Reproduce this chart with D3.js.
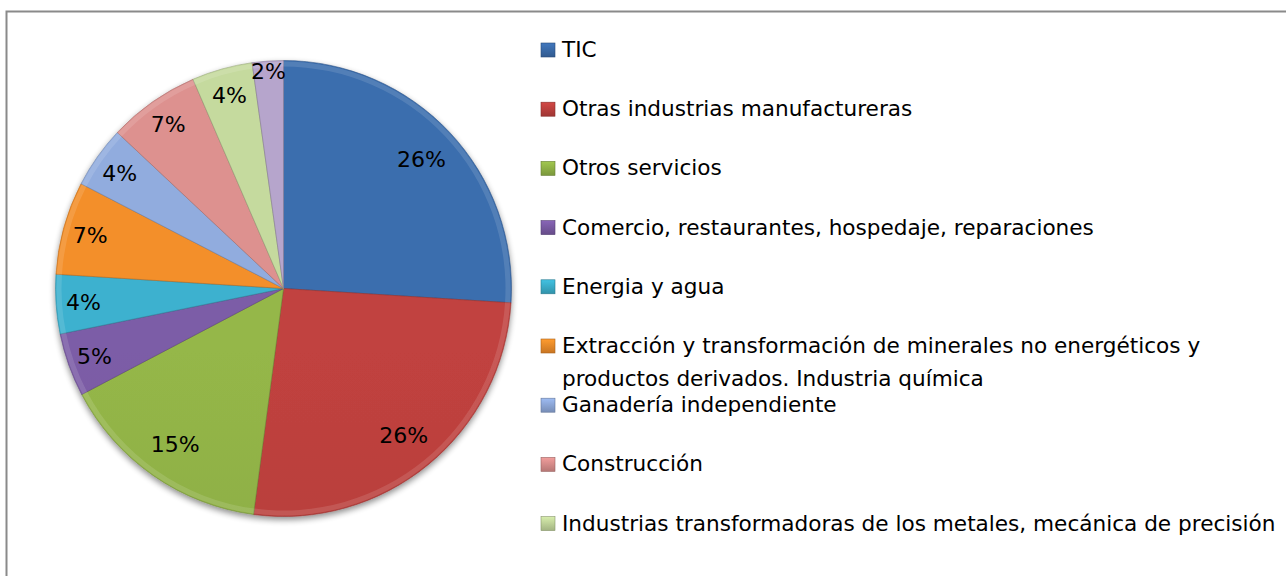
<!DOCTYPE html>
<html>
<head>
<meta charset="utf-8">
<script src="https://cdn.jsdelivr.net/npm/d3@7"></script>
<style>
  html, body { margin: 0; padding: 0; background: #fff; }
  svg { display: block; }
  text { font-family: "DejaVu Sans", sans-serif; }
</style>
</head>
<body>
<svg id="chart" width="1286" height="576"></svg>
<script>
// ---- data ----
const categories = [
  "TIC",
  "Otras industrias manufactureras",
  "Otros servicios",
  "Comercio, restaurantes, hospedaje, reparaciones",
  "Energia y agua",
  "Extracción y transformación de minerales no energéticos y productos derivados. Industria química",
  "Ganadería independiente",
  "Construcción",
  "Industrias transformadoras de los metales, mecánica de precisión",
  "Otras actividades"
];
const values = [26.0, 26.1, 15.2, 4.5, 4.2, 6.6, 4.4, 6.5, 4.3, 2.2];
const colors = ["#3A6CAB", "#BE413E", "#92B447", "#7A5BA4", "#3BAECB",
                "#EF8C2A", "#8EA9DA", "#D98E8C", "#C2D69B", "#B3A2C8"];

// ---- layout ----
const W = 1286, H = 576;
const cx = 283.5, cy = 288.5, R = 228;
const svg = d3.select("#chart");
const defs = svg.append("defs");

// frame (continues past the visible area)
svg.append("rect")
  .attr("x", 6.5).attr("y", 11.5)
  .attr("width", W + 20).attr("height", H + 20)
  .attr("fill", "#fff")
  .attr("stroke", "#8a8a8a").attr("stroke-width", 2);

// shadow filter
const f = defs.append("filter").attr("id", "shadow")
  .attr("x", "-10%").attr("y", "-10%").attr("width", "120%").attr("height", "125%");
f.append("feGaussianBlur").attr("in", "SourceAlpha").attr("stdDeviation", 3).attr("result", "b");
f.append("feOffset").attr("in", "b").attr("dx", 0).attr("dy", 3).attr("result", "o");
f.append("feComponentTransfer").attr("in", "o").attr("result", "o2")
  .append("feFuncA").attr("type", "linear").attr("slope", 0.45);
const fm = f.append("feMerge");
fm.append("feMergeNode").attr("in", "o2");
fm.append("feMergeNode").attr("in", "SourceGraphic");

// gradients per slice (vertical across pie)
colors.forEach((c, i) => {
  const g = defs.append("linearGradient").attr("id", "g" + i)
    .attr("gradientUnits", "userSpaceOnUse")
    .attr("x1", 0).attr("y1", cy - R).attr("x2", 0).attr("y2", cy + R);
  g.append("stop").attr("offset", 0).attr("stop-color", d3.color(c).brighter(0.05));
  g.append("stop").attr("offset", 0.5).attr("stop-color", d3.color(c).darker(0.1));
  g.append("stop").attr("offset", 1).attr("stop-color", d3.color(c).darker(0.55));
  const m = defs.append("linearGradient").attr("id", "m" + i)
    .attr("x1", 0).attr("y1", 0).attr("x2", 0).attr("y2", 1);
  m.append("stop").attr("offset", 0).attr("stop-color", d3.color(c).brighter(0.3));
  m.append("stop").attr("offset", 1).attr("stop-color", d3.color(c).darker(0.5));
});

const data = categories.map((name, i) => ({ name, value: values[i], i }));
const total = d3.sum(values);
const pie = d3.pie().value(d => d.value).sort(null);
const arcs = pie(data);
const arc = d3.arc().innerRadius(0).outerRadius(R);

const g = svg.append("g").attr("transform", `translate(${cx},${cy})`);
const sg = g.append("g").attr("filter", "url(#shadow)");
sg.selectAll("path.slice").data(arcs).enter().append("path")
  .attr("class", "slice")
  .attr("d", arc)
  .attr("fill", d => `url(#g${d.data.i})`)
  .attr("stroke", d => d3.color(colors[d.data.i]).darker(0.8))
  .attr("stroke-opacity", 0.55)
  .attr("stroke-width", 1);

// bevel highlight on the rim
const rimArc = d3.arc().innerRadius(R - 6).outerRadius(R - 1);
g.selectAll("path.rim").data(arcs).enter().append("path")
  .attr("d", rimArc)
  .attr("fill", "#fff")
  .attr("opacity", 0.12);

// labels
const fmt = v => Math.round(v / total * 100) + "%";
const labelFactor = d => {
  const p = d.data.value / total;
  if (p < 0.03) return 0.955;
  if (p < 0.10) return 0.88;
  return 0.83;
};
g.selectAll("text.lbl").data(arcs).enter().append("text")
  .attr("class", "lbl")
  .attr("transform", d => {
    const a = (d.startAngle + d.endAngle) / 2;
    const r = R * labelFactor(d);
    return `translate(${Math.sin(a) * r},${-Math.cos(a) * r})`;
  })
  .attr("text-anchor", "middle")
  .attr("dy", "0.36em")
  .attr("font-size", 22)
  .attr("fill", "#000")
  .text(d => fmt(d.data.value));

// legend (rows past the frame's visible area are clipped away, as in the original)
const lx = 541, tx = 562, y0 = 57, step = 59.2, maxW = 740;
const leg = svg.append("g");
data.forEach((d, i) => {
  const by = y0 + i * step;
  if (by - 14 > H - 20) return;
  leg.append("rect")
    .attr("x", lx).attr("y", by - 14)
    .attr("width", 14).attr("height", 14)
    .attr("fill", `url(#m${i})`)
    .attr("stroke", d3.color(colors[i]).darker(1))
    .attr("stroke-width", 0.6);
  const t = leg.append("text").attr("x", tx).attr("y", by)
    .attr("font-size", 21.6).attr("fill", "#000");
  const words = d.name.split(" ");
  let line = [], lineNo = 0;
  let ts = t.append("tspan").attr("x", tx).attr("y", by);
  words.forEach(w => {
    line.push(w);
    ts.text(line.join(" "));
    if (ts.node().getComputedTextLength() > maxW && line.length > 1) {
      line.pop();
      ts.text(line.join(" "));
      line = [w];
      lineNo++;
      ts = t.append("tspan").attr("x", tx).attr("y", by + lineNo * 33).text(w);
    }
  });
});
</script>
</body>
</html>
